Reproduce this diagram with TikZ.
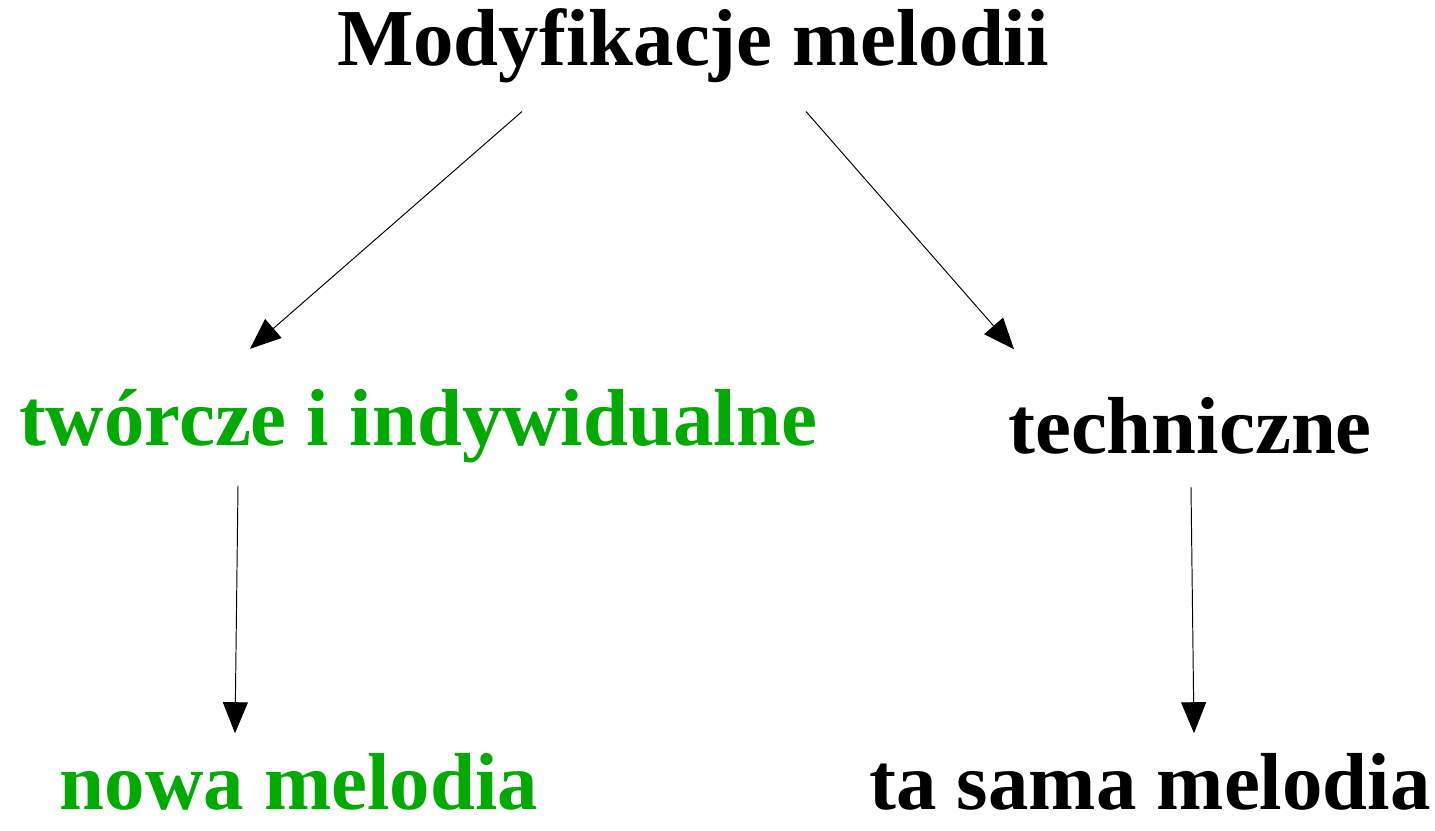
\documentclass[tikz,border=0pt]{standalone}
\usepackage{fontspec}
\setmainfont{Liberation Serif}
\usetikzlibrary{arrows.meta}
\definecolor{zielony}{RGB}{0,170,0}
\tikzset{
    etykieta/.style={font=\fontsize{46}{55}\selectfont\bfseries, inner sep=0pt},
    strzalka/.style={line width=0.55pt, -{Triangle[length=0.62cm,width=0.5cm]}}
}
\begin{document}
\begin{tikzpicture}[]
        \useasboundingbox (0,0) rectangle (28.7,-16.6);
        \node[etykieta] (tytul)      at (13.86,-0.92)  {Modyfikacje melodii};
        \node[etykieta, text=zielony] (tworcze) at (8.36,-8.52) {twórcze i indywidualne};
        \node[etykieta] (techniczne) at (23.8,-8.52)   {techniczne};
        \node[etykieta, text=zielony] (nowa) at (5.98,-15.64) {nowa melodia};
        \node[etykieta] (tasama)     at (23.0,-15.64)  {ta sama melodia};
        \draw[strzalka] ([xshift=-3.42cm,yshift=-0.56cm]tytul.south) -- ([xshift=-3.36cm,yshift=0.8cm]tworcze.north);
        \draw[strzalka] ([xshift=2.26cm,yshift=-0.56cm]tytul.south) -- ([xshift=-3.52cm,yshift=0.96cm]techniczne.north);
        \draw[strzalka] ([xshift=-3.6cm,yshift=-0.45cm]tworcze.south) -- ([xshift=-1.28cm,yshift=0.4cm]nowa.north);
        \draw[strzalka] ([xshift=0.02cm,yshift=-0.65cm]techniczne.south) -- ([xshift=0.88cm,yshift=0.4cm]tasama.north);
    \end{tikzpicture}
\end{document}
